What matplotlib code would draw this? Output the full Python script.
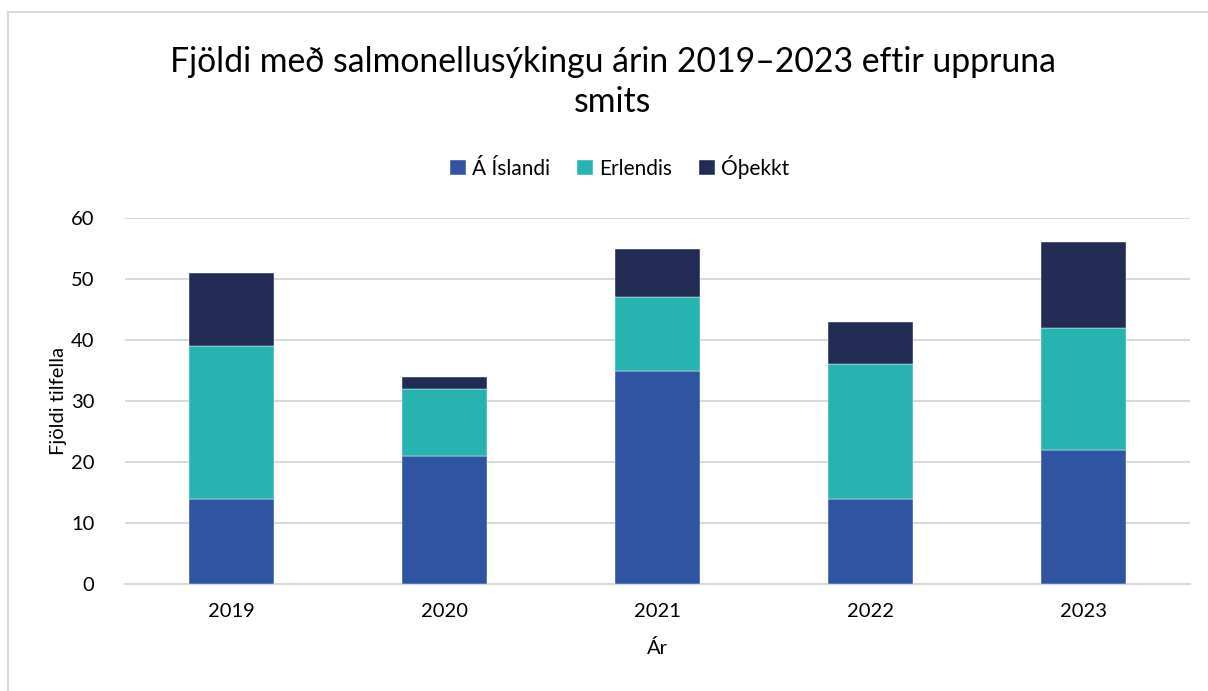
import matplotlib
matplotlib.use("Agg")
import matplotlib.pyplot as plt
from matplotlib.patches import Rectangle
import numpy as np

years = ["2019", "2020", "2021", "2022", "2023"]
a_islandi = [14, 21, 35, 14, 22]
erlendis = [25, 11, 12, 22, 20]
othekkt = [12, 2, 8, 7, 14]
series_names = ["Á Íslandi", "Erlendis", "Óþekkt"]
colors = ["#2E54A2", "#27B4B1", "#212B53"]

plt.rcParams['font.family'] = ['Lato', 'DejaVu Sans']

fig = plt.figure(figsize=(12.08, 6.91), dpi=100)
fig.patches.append(Rectangle((8/1208, -0.2), 1.2, 1.2 - 12/691, transform=fig.transFigure,
                             fill=False, edgecolor="#D9D9D9", linewidth=1.5, zorder=0))
ax = fig.add_axes([125/1208, 1 - 584/691, (1190-125)/1208, (584-218)/691])

x = np.arange(len(years))
bottom = np.zeros(len(years))
for vals, name, c in zip([a_islandi, erlendis, othekkt], series_names, colors):
    ax.bar(x, vals, width=0.4, bottom=bottom, color=c, label=name,
           edgecolor="white", linewidth=0.3, zorder=3)
    bottom += np.array(vals)

ax.set_xlim(-0.5, len(years) - 0.5)
ax.set_ylim(0, 60)
ax.set_yticks(range(0, 61, 10))
ax.set_xticks(x)
ax.set_xticklabels(years)
ax.tick_params(axis='both', length=0, labelsize=14.5, colors="black")
ax.tick_params(axis='x', pad=14)
ax.tick_params(axis='y', pad=22)
ax.grid(axis='y', color="#D9D9D9", linewidth=1.5, zorder=0)
for s in ["top", "right", "left"]:
    ax.spines[s].set_visible(False)
ax.spines["bottom"].set_color("#D9D9D9")
ax.spines["bottom"].set_linewidth(1.5)

ax.set_ylabel("Fjöldi tilfella", fontsize=14.5)
ax.yaxis.set_label_coords(-58/1065, 0.5)
ax.set_xlabel("Ár", fontsize=14.5, labelpad=13)

fig.text(613/1208, 1 - 62/691, "Fjöldi með salmonellusýkingu árin 2019–2023 eftir uppruna",
         ha="center", va="center", fontsize=24.3)
fig.text(613/1208, 1 - 102/691, "smits", ha="center", va="center", fontsize=24.3)

fig.legend(loc="center", bbox_to_anchor=(620/1208, 1 - 167/691), ncol=3, frameon=False,
           fontsize=15, handlelength=0.75, handleheight=0.75, handletextpad=0.3,
           columnspacing=1.3)

fig.savefig("out.png", dpi=100)
